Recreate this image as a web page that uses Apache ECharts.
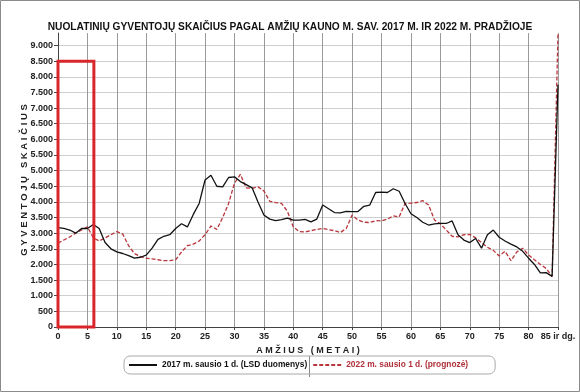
<!DOCTYPE html>
<html><head><meta charset="utf-8">
<script src="https://cdn.jsdelivr.net/npm/echarts@6/dist/echarts.min.js"></script>
<style>html,body{margin:0;padding:0;background:#fff}#c{width:580px;height:392px}</style>
</head><body><div id="c"></div>
<script>
const ages = Array.from({length: 86}, (_, i) => i);
const series2017 = [3180,3150,3100,3000,3150,3150,3280,3150,2700,2500,
  2400,2350,2280,2200,2230,2300,2520,2800,2900,2950,
  3150,3300,3200,3600,3950,4700,4850,4500,4480,4780,
  4800,4650,4550,4450,4000,3580,3450,3400,3430,3480,
  3420,3420,3440,3360,3450,3900,3780,3660,3650,3700,
  3690,3690,3860,3900,4300,4310,4300,4420,4340,3950,
  3620,3500,3350,3260,3300,3310,3310,3390,2950,2780,
  2700,2830,2520,2950,3100,2870,2750,2650,2560,2420,
  2200,2000,1730,1740,1620,7750];
const series2022 = [2680,2780,2880,3000,3100,3200,2850,2750,2850,2950,
  3050,2970,2600,2350,2250,2200,2180,2150,2120,2120,
  2150,2400,2600,2650,2750,2950,3230,3120,3500,3950,
  4600,4880,4450,4430,4480,4350,4020,3980,3950,3700,
  3200,3050,3040,3080,3120,3150,3110,3080,3020,3150,
  3580,3420,3350,3340,3400,3390,3450,3550,3520,3950,
  3960,3980,4040,3900,3420,3300,3100,2900,2880,2950,
  2960,2850,2700,2550,2450,2270,2420,2120,2400,2520,
  2300,2150,2000,1870,1620,9400];
const seriesNames = ['2017 m. sausio 1 d. (LSD duomenys)', '2022 m. sausio 1 d. (prognozė)'];
const xTickLabels = {0:'0',5:'5',10:'10',15:'15',20:'20',25:'25',30:'30',35:'35',40:'40',45:'45',50:'50',55:'55',60:'60',65:'65',70:'70',75:'75',80:'80',85:'85 ir dg.'};
const highlightBoxAge = [0, 6.1];
const highlightBoxValue = [0, 8500];

const FONT = '"Liberation Sans", Arial, sans-serif';
const LEG_LEFT = 124, LEG_RIGHT = 495, LEG_PAD_L = 4, LEG_ICON_W = 28, LEG_FONT = 8.4, LEG_GAP = 5;
const mctx = document.createElement('canvas').getContext('2d');
mctx.font = 'bold ' + LEG_FONT + 'px ' + FONT;
const w1 = mctx.measureText(seriesNames[0]).width, w2 = mctx.measureText(seriesNames[1]).width;
const sepX = Math.round(LEG_LEFT + 1 + LEG_PAD_L + LEG_ICON_W + 5 + w1 + 2) + 0.5;
const padR = Math.max(4, Math.round(LEG_RIGHT - LEG_LEFT - 2 - (LEG_PAD_L + 2 * (LEG_ICON_W + 5) + LEG_GAP + w1 + w2)));

const chart = echarts.init(document.getElementById('c'), null, {renderer: 'canvas'});
const fmtY = v => v >= 1000 ? Math.floor(v/1000) + '.' + String(v % 1000).padStart(3, '0') : String(v);
chart.setOption({
  animation: false,
  textStyle: {fontFamily: FONT},
  title: {
    text: 'NUOLATINIŲ GYVENTOJŲ SKAIČIUS PAGAL AMŽIŲ KAUNO M. SAV. 2017 M. IR 2022 M. PRADŽIOJE',
    left: 'center', top: 17,
    textStyle: {fontSize: 10.2, fontWeight: 'bold', color: '#111', fontFamily: FONT}
  },
  grid: {left: 58, right: 22, top: 33, bottom: 65, containLabel: false},
  legend: {
    left: LEG_LEFT, top: 356, orient: 'horizontal',
    itemGap: LEG_GAP, itemWidth: LEG_ICON_W, itemHeight: 10,
    padding: [5, padR, 5, LEG_PAD_L],
    borderColor: '#aaa', borderWidth: 1, borderRadius: 6,
    itemStyle: {opacity: 0},
    textStyle: {fontSize: LEG_FONT, fontWeight: 'bold', fontFamily: FONT},
    data: [
      {name: seriesNames[0], textStyle: {color: '#111'}},
      {name: seriesNames[1], textStyle: {color: '#b0303a'}}
    ]
  },
  xAxis: {
    type: 'value', min: 0, max: 85, interval: 5,
    name: 'A M Ž I U S   ( M E T A I )', nameLocation: 'middle', nameGap: 14,
    nameTextStyle: {fontSize: 9, fontWeight: 'bold', color: '#222'},
    axisLine: {lineStyle: {color: '#444'}},
    axisTick: {show: true, length: 3, lineStyle: {color: '#444'}},
    axisLabel: {fontSize: 9, fontWeight: 'bold', color: '#222', margin: 5,
      formatter: v => xTickLabels[v] !== undefined ? xTickLabels[v] : ''},
    splitLine: {show: true, lineStyle: {color: '#9a9a9a', width: 1}}
  },
  yAxis: {
    type: 'value', min: 0, max: 9400, interval: 500,
    name: 'G Y V E N T O J Ų   S K A I Č I U S', nameLocation: 'middle', nameGap: 29,
    nameMoveOverlap: false,
    nameTextStyle: {fontSize: 9.5, fontWeight: 'bold', color: '#222'},
    axisLine: {show: true, lineStyle: {color: '#444'}},
    axisTick: {show: true, length: 4, lineStyle: {color: '#444'}},
    axisLabel: {fontSize: 9, fontWeight: 'bold', color: '#222', margin: 5, showMaxLabel: false,
      formatter: v => v % 500 === 0 ? fmtY(v) : ''},
    splitLine: {show: true, showMaxLine: false, lineStyle: {color: '#cfcfcf', width: 1}}
  },
  series: [
    {
      name: seriesNames[0], type: 'line', symbol: 'none', z: 3,
      data: ages.map((a, i) => [a, series2017[i]]),
      lineStyle: {color: '#111', width: 1.3}, itemStyle: {color: '#111'},
      markArea: {
        silent: true, z: 5,
        itemStyle: {color: 'rgba(0,0,0,0)', borderColor: '#d9262b', borderWidth: 3},
        data: [[{coord: [highlightBoxAge[0], highlightBoxValue[0]]}, {coord: [highlightBoxAge[1], highlightBoxValue[1]]}]]
      }
    },
    {
      name: seriesNames[1], type: 'line', symbol: 'none', z: 2,
      data: ages.map((a, i) => [a, series2022[i]]),
      lineStyle: {color: '#b8353b', width: 1.3, type: [4, 2]}, itemStyle: {color: '#b8353b'}
    }
  ],
  graphic: [
    {type: 'rect', shape: {x: 0.5, y: 0.5, width: 579, height: 391}, style: {fill: 'none', stroke: '#8a8a8a', lineWidth: 1}, silent: true},
    {type: 'line', shape: {x1: sepX, y1: 356, x2: sepX, y2: 377}, style: {stroke: '#888', lineWidth: 1}, silent: true}
  ]
});
</script></body></html>
